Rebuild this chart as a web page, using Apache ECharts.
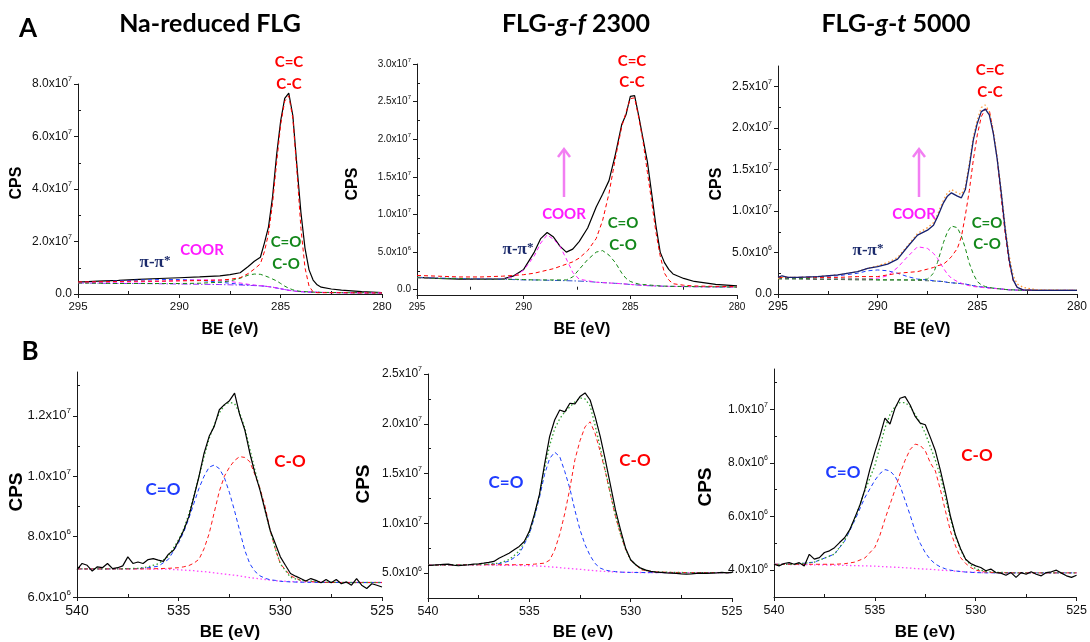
<!DOCTYPE html>
<html><head><meta charset="utf-8">
<script src="https://cdn.jsdelivr.net/npm/echarts@6/dist/echarts.min.js"></script>
<style>html,body{margin:0;padding:0;background:#fff}#c{width:1090px;height:642px}</style>
</head><body><div id="c"></div>
<script>
// ---------------- C 1s panels (values in units of 1e7 CPS) ----------------
const a1X = [295,294,293,292,291,290,289,288,287.5,287,286.6,286.3,286,285.8,285.6,285.4,285.2,285,284.8,284.6,284.4,284.2,284,283.8,283.6,283.4,283.2,283,282.5,282,281,280];
const a1Env = [0.45,0.49,0.52,0.56,0.59,0.62,0.65,0.69,0.74,0.81,1.05,1.25,1.40,1.95,2.56,3.70,5.30,6.60,7.45,7.65,6.80,4.90,3.10,1.75,0.92,0.53,0.35,0.26,0.19,0.15,0.09,0.05];
const a1CC = [0.46,0.47,0.48,0.49,0.49,0.50,0.51,0.53,0.56,0.62,0.78,0.95,1.15,1.62,2.30,3.45,5.00,6.45,7.35,7.55,6.70,4.70,2.50,1.00,0.30,0.08,0.05,0.05,0.05,0.05,0.04,0.04];
const a1CO = [0.42,0.41,0.40,0.40,0.40,0.40,0.41,0.45,0.50,0.60,0.72,0.76,0.75,0.70,0.64,0.57,0.50,0.40,0.30,0.22,0.16,0.12,0.10,0.09,0.08,0.07,0.07,0.06,0.06,0.05,0.05,0.04];
const a1Pi = [0.44,0.47,0.50,0.53,0.55,0.55,0.52,0.45,0.41,0.37,0.35,0.33,0.31,0.30,0.28,0.26,0.23,0.20,0.17,0.14,0.12,0.10,0.09,0.08,0.075,0.07,0.065,0.06,0.055,0.05,0.045,0.04];
const a1Coor = [0.43,0.44,0.45,0.46,0.48,0.51,0.54,0.53,0.48,0.42,0.37,0.34,0.32,0.30,0.28,0.26,0.23,0.20,0.17,0.14,0.12,0.10,0.09,0.08,0.075,0.07,0.065,0.06,0.055,0.05,0.045,0.04];
const a1Bg = [0.42,0.41,0.40,0.40,0.39,0.38,0.37,0.36,0.35,0.34,0.33,0.32,0.31,0.30,0.28,0.26,0.23,0.20,0.17,0.14,0.12,0.10,0.09,0.08,0.075,0.07,0.065,0.06,0.055,0.05,0.045,0.04];

const a2X = [295,294,293,292,291,290.5,290,289.5,289.2,288.9,288.6,288.3,288,287.7,287.4,287,286.6,286.3,286,285.7,285.4,285.2,285,284.8,284.6,284.4,284.2,284,283.8,283.6,283.4,283.2,283,282.5,282,281,280];
const a2Env = [0.165,0.15,0.14,0.14,0.14,0.18,0.27,0.50,0.68,0.76,0.70,0.58,0.50,0.54,0.64,0.82,1.10,1.27,1.45,1.80,2.20,2.33,2.57,2.58,2.30,2.00,1.70,1.28,0.85,0.50,0.36,0.27,0.21,0.15,0.11,0.07,0.05];
const a2CC = [0.19,0.18,0.17,0.17,0.18,0.19,0.20,0.22,0.24,0.26,0.28,0.31,0.34,0.37,0.42,0.52,0.68,0.92,1.28,1.75,2.17,2.36,2.54,2.55,2.28,1.96,1.56,1.17,0.76,0.45,0.22,0.13,0.08,0.06,0.05,0.045,0.04];
const a2CO = [0.16,0.15,0.15,0.14,0.14,0.14,0.135,0.13,0.13,0.13,0.13,0.13,0.13,0.17,0.27,0.40,0.50,0.52,0.46,0.36,0.22,0.15,0.11,0.09,0.075,0.07,0.065,0.06,0.055,0.05,0.048,0.046,0.045,0.044,0.042,0.038,0.035];
const a2Coor = [0.16,0.15,0.15,0.14,0.14,0.17,0.26,0.45,0.62,0.73,0.67,0.58,0.41,0.23,0.14,0.12,0.10,0.095,0.09,0.085,0.08,0.075,0.07,0.066,0.062,0.058,0.055,0.052,0.05,0.048,0.046,0.045,0.044,0.042,0.04,0.037,0.035];
const a2Bg = [0.165,0.155,0.15,0.145,0.14,0.135,0.13,0.13,0.128,0.126,0.124,0.122,0.12,0.118,0.115,0.11,0.10,0.095,0.09,0.085,0.08,0.075,0.07,0.066,0.062,0.058,0.055,0.052,0.05,0.048,0.046,0.045,0.044,0.042,0.04,0.037,0.035];

const a3X = [295,294.8,294.5,294,293,292,291,290.5,290,289.5,289,288.5,288,287.5,287.2,287,286.7,286.5,286.3,286,285.8,285.6,285.4,285.2,285,284.8,284.6,284.4,284.2,284,283.8,283.6,283.4,283.2,283,282.7,282,281,280];
const a3Env = [0.20,0.22,0.20,0.20,0.21,0.23,0.27,0.31,0.33,0.36,0.42,0.57,0.71,0.77,0.83,0.93,1.10,1.18,1.22,1.18,1.16,1.26,1.54,1.86,2.06,2.20,2.23,2.16,1.94,1.62,1.22,0.77,0.41,0.17,0.08,0.05,0.044,0.044,0.044];
const a3Fit = [0.19,0.20,0.20,0.20,0.21,0.23,0.27,0.31,0.34,0.38,0.44,0.58,0.73,0.80,0.86,0.96,1.13,1.22,1.26,1.22,1.20,1.30,1.58,1.90,2.10,2.25,2.28,2.20,1.97,1.65,1.25,0.82,0.46,0.22,0.12,0.08,0.05,0.045,0.044];
const a3CC = [0.20,0.20,0.20,0.20,0.20,0.20,0.21,0.21,0.21,0.23,0.25,0.26,0.27,0.30,0.32,0.34,0.36,0.40,0.45,0.55,0.69,0.95,1.25,1.62,1.92,2.14,2.23,2.22,1.95,1.62,1.15,0.72,0.37,0.16,0.08,0.05,0.044,0.044,0.044];
const a3CO = [0.19,0.19,0.19,0.19,0.18,0.18,0.18,0.18,0.17,0.17,0.17,0.17,0.17,0.18,0.25,0.38,0.62,0.75,0.82,0.80,0.70,0.55,0.37,0.24,0.15,0.11,0.09,0.08,0.07,0.065,0.06,0.055,0.05,0.05,0.047,0.045,0.044,0.044,0.044];
const a3Coor = [0.19,0.19,0.19,0.19,0.18,0.18,0.18,0.18,0.19,0.22,0.32,0.45,0.57,0.55,0.49,0.43,0.31,0.24,0.19,0.15,0.13,0.11,0.10,0.09,0.085,0.08,0.075,0.07,0.068,0.065,0.06,0.055,0.05,0.05,0.047,0.045,0.044,0.044,0.044];
const a3Pi = [0.19,0.19,0.19,0.20,0.21,0.22,0.25,0.28,0.29,0.28,0.25,0.21,0.18,0.17,0.16,0.155,0.15,0.14,0.135,0.13,0.125,0.12,0.11,0.10,0.09,0.085,0.08,0.075,0.07,0.065,0.06,0.055,0.05,0.05,0.047,0.045,0.044,0.044,0.044];
const a3Bg = [0.18,0.18,0.18,0.18,0.175,0.175,0.17,0.17,0.17,0.17,0.17,0.168,0.165,0.16,0.157,0.155,0.15,0.14,0.135,0.13,0.125,0.12,0.11,0.10,0.09,0.085,0.08,0.075,0.07,0.065,0.06,0.055,0.05,0.05,0.047,0.045,0.044,0.044,0.044];

// ---------------- O 1s panels (values in units of 1e6 CPS) ----------------
const bX = [540,539.75,539.5,539.25,539,538.75,538.5,538.25,538,537.75,537.5,537.25,537,536.75,536.5,536.25,536,535.75,535.5,535.25,535,534.75,534.5,534.25,534,533.75,533.5,533.25,533,532.75,532.5,532.25,532,531.75,531.5,531.25,531,530.75,530.5,530.25,530,529.75,529.5,529.25,529,528.75,528.5,528.25,528,527.75,527.5,527.25,527,526.75,526.5,526.25,526,525.75,525.5,525.25,525];
const bXc = [540,539,538,537,536.5,536,535.5,535,534.75,534.5,534.25,534,533.75,533.5,533.25,533,532.75,532.5,532.25,532,531.75,531.5,531.25,531,530.75,530.5,530.25,530,529.5,529,528,527,526,525];

const b1Env = [6.91,7.11,7.05,6.86,7.00,6.97,7.11,6.94,6.97,7.03,7.33,7.11,7.16,7.11,7.24,7.27,7.22,7.18,7.42,7.55,7.86,8.21,8.66,9.32,9.99,10.76,11.32,11.65,12.20,12.37,12.50,12.75,12.04,11.54,10.76,10.10,9.54,8.88,8.21,7.77,7.33,7.05,6.78,6.69,6.61,6.53,6.61,6.55,6.47,6.58,6.47,6.58,6.44,6.50,6.39,6.61,6.39,6.28,6.44,6.39,6.33];
const b1CdO = [6.93,6.93,6.93,6.94,6.97,7.02,7.25,7.8,8.15,8.6,9.1,9.6,10.0,10.3,10.37,10.25,9.95,9.45,8.85,8.2,7.55,7.1,6.85,6.7,6.62,6.57,6.55,6.52,6.5,6.49,6.48,6.48,6.48,6.48];
const b1CO = [6.93,6.93,6.93,6.93,6.93,6.94,6.95,6.97,7.0,7.04,7.12,7.25,7.6,8.1,8.8,9.5,10.0,10.3,10.52,10.65,10.62,10.48,10.05,9.6,9.0,8.2,7.6,7.1,6.7,6.55,6.48,6.48,6.48,6.48];
const b1Bg = [6.93,6.93,6.93,6.93,6.93,6.92,6.92,6.9,6.89,6.88,6.87,6.85,6.84,6.82,6.8,6.78,6.76,6.74,6.72,6.7,6.67,6.64,6.62,6.6,6.58,6.56,6.54,6.53,6.51,6.5,6.49,6.48,6.48,6.48];
const b1Fit = [6.93,6.93,6.93,6.95,7.0,7.1,7.35,7.9,8.25,8.75,9.35,10.0,10.65,11.25,11.7,12.1,12.35,12.45,12.4,12.1,11.6,10.9,10.2,9.55,8.85,8.2,7.6,7.1,6.65,6.55,6.5,6.48,6.48,6.48];

const b2Env = [5.77,5.80,5.84,5.87,5.90,5.80,5.74,5.80,5.84,5.90,5.94,6.00,6.07,6.17,6.50,6.74,7.00,7.34,7.68,8.18,9.20,10.90,12.90,15.90,18.71,20.38,21.39,21.20,22.06,22.00,22.73,23.10,22.39,20.70,18.70,16.37,13.86,11.35,9.35,7.50,6.34,5.84,5.50,5.30,5.17,5.10,5.07,5.03,5.00,4.97,4.93,4.90,4.93,4.97,5.00,4.97,5.00,5.03,5.07,5.03,5.07];
const b2CdO = [5.8,5.82,5.84,5.88,5.94,6.2,6.9,8.9,10.6,12.6,14.9,16.5,17.15,16.7,15.2,13.5,11.3,9.35,7.85,6.75,5.95,5.5,5.3,5.2,5.15,5.1,5.08,5.07,5.06,5.05,5.05,5.05,5.05,5.05];
const b2CO = [5.8,5.82,5.83,5.84,5.84,5.84,5.84,5.86,5.9,5.95,6.0,6.3,7.3,8.9,11.0,13.5,16.4,18.3,19.7,20.2,19.0,17.2,15.2,12.9,10.7,8.9,7.4,6.3,5.35,5.15,5.07,5.05,5.05,5.05];
const b2Bg = [5.8,5.8,5.8,5.8,5.79,5.78,5.77,5.75,5.73,5.7,5.67,5.63,5.6,5.55,5.5,5.46,5.42,5.38,5.33,5.28,5.24,5.2,5.17,5.14,5.12,5.1,5.08,5.07,5.06,5.05,5.05,5.05,5.05,5.05];
const b2Fit = [5.8,5.82,5.84,5.9,6.0,6.35,7.2,9.0,10.8,12.9,15.5,17.8,19.5,20.5,21.2,21.7,22.2,22.6,22.5,21.8,19.8,17.6,15.3,13.0,10.8,8.9,7.4,6.3,5.4,5.15,5.07,5.05,5.05,5.05];

const b3Env = [4.22,4.16,4.25,4.28,4.22,4.28,4.16,4.59,4.41,4.47,4.66,4.72,4.84,5.03,5.21,5.50,5.95,6.40,7.00,7.75,8.40,9.00,9.67,9.45,10.04,10.41,10.47,10.16,9.73,9.48,9.42,8.95,8.45,7.72,6.90,6.00,5.30,4.80,4.41,4.25,4.16,4.10,3.98,4.04,3.91,3.89,3.81,3.91,3.73,3.91,3.85,3.94,3.85,3.79,3.91,3.94,4.00,3.89,3.79,3.73,3.81];
const b3CdO = [4.22,4.22,4.3,4.6,5.08,5.85,6.7,7.35,7.6,7.75,7.7,7.5,7.15,6.6,6.05,5.45,5.0,4.65,4.4,4.23,4.12,4.05,4.0,3.97,3.95,3.93,3.92,3.91,3.9,3.9,3.9,3.9,3.9,3.9];
const b3CO = [4.22,4.22,4.22,4.22,4.24,4.3,4.45,4.85,5.3,5.9,6.45,7.0,7.6,8.1,8.5,8.7,8.65,8.45,8.0,7.7,7.0,6.2,5.45,4.9,4.47,4.25,4.1,4.0,3.93,3.91,3.9,3.9,3.9,3.9];
const b3Bg = [4.22,4.21,4.2,4.19,4.18,4.17,4.16,4.15,4.14,4.13,4.12,4.11,4.1,4.09,4.08,4.06,4.05,4.04,4.03,4.02,4.0,3.99,3.98,3.96,3.95,3.94,3.93,3.92,3.91,3.91,3.9,3.9,3.9,3.9];
const b3Fit = [4.22,4.22,4.3,4.6,5.1,5.9,6.95,7.9,8.6,9.3,9.8,10.1,10.25,10.25,10.1,9.8,9.5,9.1,8.6,8.1,7.5,6.7,5.9,5.25,4.75,4.4,4.2,4.05,3.95,3.92,3.9,3.9,3.9,3.9];

// ---------------- tick values ----------------
const aXTicks = [295,290,285,280];
const aXMinor = [292.5,287.5,282.5];
const bXTicks = [540,535,530,525];
const bXMinor = [537.5,532.5,527.5];
const a1YTicks = [0,2e7,4e7,6e7,8e7];
const a1YMinor = [1e7,3e7,5e7,7e7];
const a2YTicks = [0,5e6,1e7,1.5e7,2e7,2.5e7,3e7];
const a2YMinor = [2.5e6,7.5e6,1.25e7,1.75e7,2.25e7,2.75e7];
const a3YTicks = [0,5e6,1e7,1.5e7,2e7,2.5e7];
const a3YMinor = [2.5e6,7.5e6,1.25e7,1.75e7,2.25e7];
const b1YTicks = [6e6,8e6,1e7,1.2e7];
const b1YMinor = [7e6,9e6,1.1e7,1.3e7];
const b2YTicks = [5e6,1e7,1.5e7,2e7,2.5e7];
const b2YMinor = [7.5e6,1.25e7,1.75e7,2.25e7];
const b3YTicks = [4e6,6e6,8e6,1e7];
const b3YMinor = [5e6,7e6,9e6,1.1e7];

// ---------------- styles ----------------
const DASH = [4,3], DASHDOT = [6,2,1.5,2], DOT = [1.5,2.5];
const AX = '#1a1a1a';
function L(x, y, k, color, type, w) { return {x, y, k, color, type, w: w || 1}; }

const panels = [
  { grid:{left:78, top:84, width:304, height:210}, x:[280,295], y:[0,8e7], xt:aXTicks, xm:aXMinor, yt:a1YTicks, ym:a1YMinor, xfs:11.5, yfs:12,
    lines:[L(a1X,a1Env,1e7,'#000','solid',1.2), L(a1X,a1Bg,1e7,'#9b30ff',DASHDOT), L(a1X,a1Pi,1e7,'#1a3cff',DASH), L(a1X,a1Coor,1e7,'#ff22ff',DASH), L(a1X,a1CO,1e7,'#118811',DASH), L(a1X,a1CC,1e7,'#ff0000',DASH)] },
  { grid:{left:417, top:64, width:320, height:231}, x:[280,295], y:[-7e5,3e7], xt:aXTicks, xm:aXMinor, yt:a2YTicks, ym:a2YMinor, xfs:10, yfs:10,
    lines:[L(a2X,a2Env,1e7,'#000','solid',1.2), L(a2X,a2Bg,1e7,'#3050d0',DASHDOT), L(a2X,a2Coor,1e7,'#ff22ff',DASH), L(a2X,a2CO,1e7,'#118811',DASH), L(a2X,a2CC,1e7,'#ff0000',DASH)] },
  { grid:{left:778, top:66, width:302, height:228}, x:[280,295], y:[0,2.75e7], xt:aXTicks, xm:aXMinor, yt:a3YTicks, ym:a3YMinor, xfs:12, yfs:12,
    lines:[L(a3X,a3Bg,1e7,'#4a6a4a',DASH), L(a3X,a3Pi,1e7,'#1a3cff',DASH), L(a3X,a3Coor,1e7,'#ff22ff',DASH), L(a3X,a3CO,1e7,'#118811',DASH), L(a3X,a3CC,1e7,'#ff0000',DASH), L(a3X,a3Fit,1e7,'#ff9933',DOT,1.3), L(a3X,a3Env,1e7,'#16206e','solid',1.3)] },
  { grid:{left:77, top:372, width:305, height:225}, x:[525,540], y:[6e6,1.345e7], xt:bXTicks, xm:bXMinor, yt:b1YTicks, ym:b1YMinor, xfs:14, yfs:13,
    lines:[L(bXc,b1Bg,1e6,'#ff44ff',DOT,1.3), L(bXc,b1CdO,1e6,'#1a3cff',DASH), L(bXc,b1CO,1e6,'#ff1a1a',DASH), L(bXc,b1Fit,1e6,'#33a033',DOT,1.3), L(bX,b1Env,1e6,'#000','solid',1.2)] },
  { grid:{left:428, top:374, width:304, height:224}, x:[525,540], y:[2.5e6,2.5e7], xt:bXTicks, xm:bXMinor, yt:b2YTicks, ym:b2YMinor, xfs:12.5, yfs:12,
    lines:[L(bXc,b2Bg,1e6,'#ff44ff',DOT,1.3), L(bXc,b2CdO,1e6,'#1a3cff',DASH), L(bXc,b2CO,1e6,'#ff1a1a',DASH), L(bXc,b2Fit,1e6,'#33a033',DOT,1.3), L(bX,b2Env,1e6,'#000','solid',1.2)] },
  { grid:{left:774, top:369, width:307, height:228}, x:[525,540], y:[3e6,1.15e7], xt:bXTicks, xm:bXMinor, yt:b3YTicks, ym:b3YMinor, xfs:12.5, yfs:12,
    lines:[L(bXc,b3Bg,1e6,'#ff44ff',DOT,1.3), L(bXc,b3CdO,1e6,'#1a3cff',DASH), L(bXc,b3CO,1e6,'#ff1a1a',DASH), L(bXc,b3Fit,1e6,'#33a033',DOT,1.3), L(bX,b3Env,1e6,'#000','solid',1.2)] }
];

function sci(v) {
  if (Math.abs(v) < 1) return '{m|0.0}';
  const e = Math.floor(Math.log10(Math.abs(v)) + 1e-9);
  const m = v / Math.pow(10, e);
  return '{m|' + m.toFixed(1) + 'x10}{s|' + e + '}';
}

const grid = [], xAxis = [], yAxis = [], series = [];
panels.forEach((p, i) => {
  grid.push(Object.assign({containLabel: false}, p.grid));
  const line = {show: true, onZero: false, lineStyle: {color: AX, width: 1}};
  xAxis.push({type: 'value', gridIndex: i, min: p.x[0], max: p.x[1], inverse: true, position: 'bottom',
    axisLine: line, splitLine: {show: false},
    axisTick: {show: true, inside: false, length: 4, customValues: p.xt, lineStyle: {color: AX}},
    axisLabel: {show: true, customValues: p.xt, margin: 7, fontFamily: 'Liberation Sans', fontSize: p.xfs, color: '#111'}});
  xAxis.push({type: 'value', gridIndex: i, min: p.x[0], max: p.x[1], inverse: true, position: 'bottom',
    axisLine: {show: false}, splitLine: {show: false}, axisLabel: {show: false},
    axisTick: {show: true, inside: true, length: 3, customValues: p.xm, lineStyle: {color: AX}}});
  yAxis.push({type: 'value', gridIndex: i, min: p.y[0], max: p.y[1], position: 'left',
    axisLine: line, splitLine: {show: false},
    axisTick: {show: true, inside: false, length: 4, customValues: p.yt, lineStyle: {color: AX}},
    axisLabel: {show: true, customValues: p.yt, margin: 6, formatter: sci, color: '#111',
      rich: {m: {fontFamily: 'Liberation Sans', fontSize: p.yfs, color: '#111', lineHeight: p.yfs + 4},
             s: {fontFamily: 'Liberation Sans', fontSize: Math.round(p.yfs * 0.62), color: '#111', lineHeight: Math.round(p.yfs * 0.7), verticalAlign: 'top'}}}});
  yAxis.push({type: 'value', gridIndex: i, min: p.y[0], max: p.y[1], position: 'left',
    axisLine: {show: false}, splitLine: {show: false}, axisLabel: {show: false},
    axisTick: {show: true, inside: true, length: 3, customValues: p.ym, lineStyle: {color: AX}}});
  p.lines.forEach((l, j) => {
    series.push({type: 'line', xAxisIndex: 2 * i, yAxisIndex: 2 * i, silent: true, animation: false,
      showSymbol: false, symbol: 'none', z: 2 + j,
      data: l.x.map((xv, n) => [xv, l.y[n] * l.k]),
      lineStyle: {color: l.color, width: l.w, type: l.type}});
  });
});

// ---------------- text / annotations ----------------
const TF = 'Lato';
function T(x, y, text, font, fill, rich) {
  const st = {text: text, font: font, fill: fill, align: 'center', verticalAlign: 'middle', textAlign: 'center', textVerticalAlign: 'middle'};
  if (rich) st.rich = rich;
  return {type: 'text', x: x, y: y, silent: true, style: st};
}
const titleRich = {b: {fontFamily: TF, fontWeight: 'bold', fontSize: 25, fill: '#000'},
                   i: {fontFamily: TF, fontWeight: 'bold', fontStyle: 'italic', fontSize: 25, fill: '#000'}};
const piRich = {a: {fontFamily: 'Liberation Serif', fontWeight: 'bold', fontSize: 17, fill: '#1b2a6b'},
                s: {fontFamily: 'Liberation Serif', fontWeight: 'bold', fontSize: 13, fill: '#1b2a6b', verticalAlign: 'top', lineHeight: 10}};
const AF = 'bold 15px ' + TF, BF = 'bold 17px ' + TF;
const RED = '#ff0000', GRN = '#12871a', MAG = '#ff1aff', BLU = '#1f3cff', ARW = '#f27ef2';
function arrow(x, yBottom, yTop) {
  return [
    {type: 'line', silent: true, shape: {x1: x, y1: yBottom, x2: x, y2: yTop + 1}, style: {stroke: ARW, lineWidth: 2.5}},
    {type: 'polyline', silent: true, shape: {points: [[x - 6, yTop + 8], [x, yTop], [x + 6, yTop + 8]]}, style: {stroke: ARW, lineWidth: 2.5, fill: 'none'}}
  ];
}
const graphic = [
  T(28, 29, 'A', 'bold 26px ' + TF, '#000'),
  T(30, 352, 'B', 'bold 26px ' + TF, '#000'),
  T(210, 24, '{b|Na-reduced FLG}', 'bold 25px ' + TF, '#000', titleRich),
  T(576, 24, '{b|FLG-}{i|g}{b|-}{i|f}{b| 2300}', 'bold 25px ' + TF, '#000', titleRich),
  T(896, 24, '{b|FLG-}{i|g}{b|-}{i|t}{b| 5000}', 'bold 25px ' + TF, '#000', titleRich),
  // axis titles
  T(230, 330, 'BE (eV)', 'bold 16px Liberation Sans', '#000'),
  T(582, 330, 'BE (eV)', 'bold 16px Liberation Sans', '#000'),
  T(922, 330, 'BE (eV)', 'bold 16px Liberation Sans', '#000'),
  T(230, 632, 'BE (eV)', 'bold 17px Liberation Sans', '#000'),
  T(583, 632, 'BE (eV)', 'bold 17px Liberation Sans', '#000'),
  T(925, 632, 'BE (eV)', 'bold 17px Liberation Sans', '#000'),
  Object.assign(T(17, 183, 'CPS', 'bold 16px Liberation Sans', '#000'), {rotation: Math.PI / 2}),
  Object.assign(T(353, 184, 'CPS', 'bold 16px Liberation Sans', '#000'), {rotation: Math.PI / 2}),
  Object.assign(T(717, 184, 'CPS', 'bold 16px Liberation Sans', '#000'), {rotation: Math.PI / 2}),
  Object.assign(T(17, 492, 'CPS', 'bold 19px Liberation Sans', '#000'), {rotation: Math.PI / 2}),
  Object.assign(T(364, 484, 'CPS', 'bold 19px Liberation Sans', '#000'), {rotation: Math.PI / 2}),
  Object.assign(T(706, 487, 'CPS', 'bold 19px Liberation Sans', '#000'), {rotation: Math.PI / 2}),
  // panel A1 annotations
  T(289, 62, 'C=C', AF, RED), T(289, 84, 'C-C', AF, RED),
  T(286, 242, 'C=O', AF, GRN), T(286, 264, 'C-O', AF, GRN),
  T(202, 250, 'COOR', AF, MAG),
  T(155, 263, '{a|π-π}{s|*}', AF, '#1b2a6b', piRich),
  // panel A2
  T(632, 61, 'C=C', AF, RED), T(632, 82, 'C-C', AF, RED),
  T(623, 223, 'C=O', AF, GRN), T(623, 245, 'C-O', AF, GRN),
  T(564, 214, 'COOR', AF, MAG),
  T(518, 250, '{a|π-π}{s|*}', AF, '#1b2a6b', piRich),
  ...arrow(564, 197, 149),
  // panel A3
  T(990, 70, 'C=C', AF, RED), T(990, 92, 'C-C', AF, RED),
  T(987, 223, 'C=O', AF, GRN), T(987, 244, 'C-O', AF, GRN),
  T(914, 214, 'COOR', AF, MAG),
  T(868, 251, '{a|π-π}{s|*}', AF, '#1b2a6b', piRich),
  ...arrow(919, 197, 149),
  // panel B
  T(163, 490, 'C=O', BF, BLU), T(290, 462, 'C-O', BF, RED),
  T(506, 483, 'C=O', BF, BLU), T(635, 461, 'C-O', BF, RED),
  T(843, 473, 'C=O', BF, BLU), T(977, 456, 'C-O', BF, RED)
];

const chart = echarts.init(document.getElementById('c'), null, {renderer: 'canvas'});
chart.setOption({animation: false, backgroundColor: '#fff', grid, xAxis, yAxis, series, graphic});
</script></body></html>
